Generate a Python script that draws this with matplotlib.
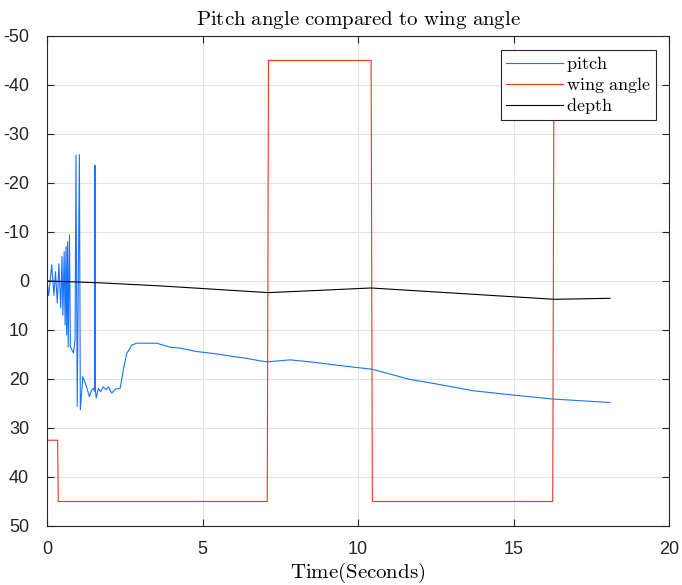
import matplotlib
matplotlib.use("Agg")
from matplotlib import pyplot as plt

# Pitch angle (deg)
pitch_t = [0.0, 0.05, 0.15, 0.22, 0.27, 0.33, 0.38, 0.44, 0.48, 0.51, 0.55, 0.58,
           0.61, 0.63, 0.66, 0.68, 0.72, 0.75, 0.85, 0.90, 0.93, 0.97, 1.04,
           1.07, 1.15, 1.27, 1.36, 1.44, 1.49, 1.53, 1.54, 1.55, 1.58, 1.65,
           1.72, 1.81, 1.90, 1.97, 2.08, 2.19, 2.35, 2.45, 2.56, 2.67, 2.72, 2.88,
           3.53, 3.95, 4.28, 4.81, 5.35, 5.88, 6.42, 6.85, 7.08, 7.81, 8.46, 9.20,
           10.02, 10.44, 10.92, 11.67, 12.42, 13.28, 13.70, 15.02, 16.28, 18.10]
pitch_v = [0.0, 3.0, -3.3, 2.9, -1.9, 4.5, -3.5, 5.5, -5.0, 7.0, -6.0, 9.0,
           -7.0, 11.0, -8.0, 13.5, -9.4, 13.4, 14.7, 12.0, -25.7, 25.6, -25.8,
           26.3, 19.5, 21.6, 23.6, 22.2, 21.9, 22.5, -23.6, 22.0, 23.9, 21.9,
           22.6, 21.6, 22.2, 21.6, 22.9, 22.1, 21.9, 18.2, 14.8, 13.7, 13.1, 12.7,
           12.7, 13.5, 13.7, 14.4, 14.8, 15.3, 15.8, 16.3, 16.5, 16.1, 16.5, 17.1,
           17.7, 18.0, 18.8, 20.1, 20.9, 21.9, 22.4, 23.3, 24.1, 24.8]

# Wing angle (deg)
wing_t = [0.0, 0.005, 0.34, 0.36, 7.08, 7.12, 10.42, 10.46, 16.26, 16.30, 18.10]
wing_v = [0.0, 32.5, 32.5, 45.0, 45.0, -45.0, -45.0, 45.0, 45.0, -45.0, -45.0]

# Depth
depth_t = [0.0, 1.6, 3.63, 7.12, 10.42, 16.31, 18.10]
depth_v = [0.0, 0.35, 1.0, 2.38, 1.43, 3.74, 3.54]

plt.rcParams['mathtext.fontset'] = 'cm'
plt.rcParams['font.family'] = 'Liberation Sans'
plt.rcParams['axes.unicode_minus'] = False

fig = plt.figure(figsize=(6.82, 5.85), dpi=100)
ax = fig.add_axes([0.069, 0.1009, 0.912, 0.8376])

ax.plot(pitch_t, pitch_v, color='#1a73ff', lw=0.8, label=r'$\mathrm{pitch}$')
ax.plot(wing_t, wing_v, color='#e8391d', lw=0.8, label=r'$\mathrm{wing\ angle}$')
ax.plot(depth_t, depth_v, color='black', lw=0.8, label=r'$\mathrm{depth}$')

ax.set_xlim(0, 20)
ax.set_ylim(50, -50)
ax.set_xticks([0, 5, 10, 15, 20])
ax.set_yticks(range(-50, 51, 10))
ax.grid(True, color='#e3e3e3', lw=0.8)
ax.set_axisbelow(True)
ax.tick_params(direction='in', top=True, right=True, labelsize=13,
               colors='#262626', length=5, width=0.8)
ax.tick_params(axis='x', pad=11)
ax.tick_params(axis='y', pad=13)
for s in ax.spines.values():
    s.set_color('#262626')
    s.set_linewidth(0.8)

ax.set_title(r'$\mathrm{Pitch\ angle\ compared\ to\ wing\ angle}$', fontsize=15, pad=8)
ax.set_xlabel(r'$\mathrm{Time(Seconds)}$', fontsize=15, labelpad=2)

leg = ax.legend(loc='upper right', fontsize=13, fancybox=False, framealpha=1,
                edgecolor='#262626', handlelength=3.2, borderpad=0.25,
                labelspacing=0.05, handletextpad=0.15, borderaxespad=0.75)
leg.get_frame().set_linewidth(0.8)

fig.savefig('out.png', dpi=100)
